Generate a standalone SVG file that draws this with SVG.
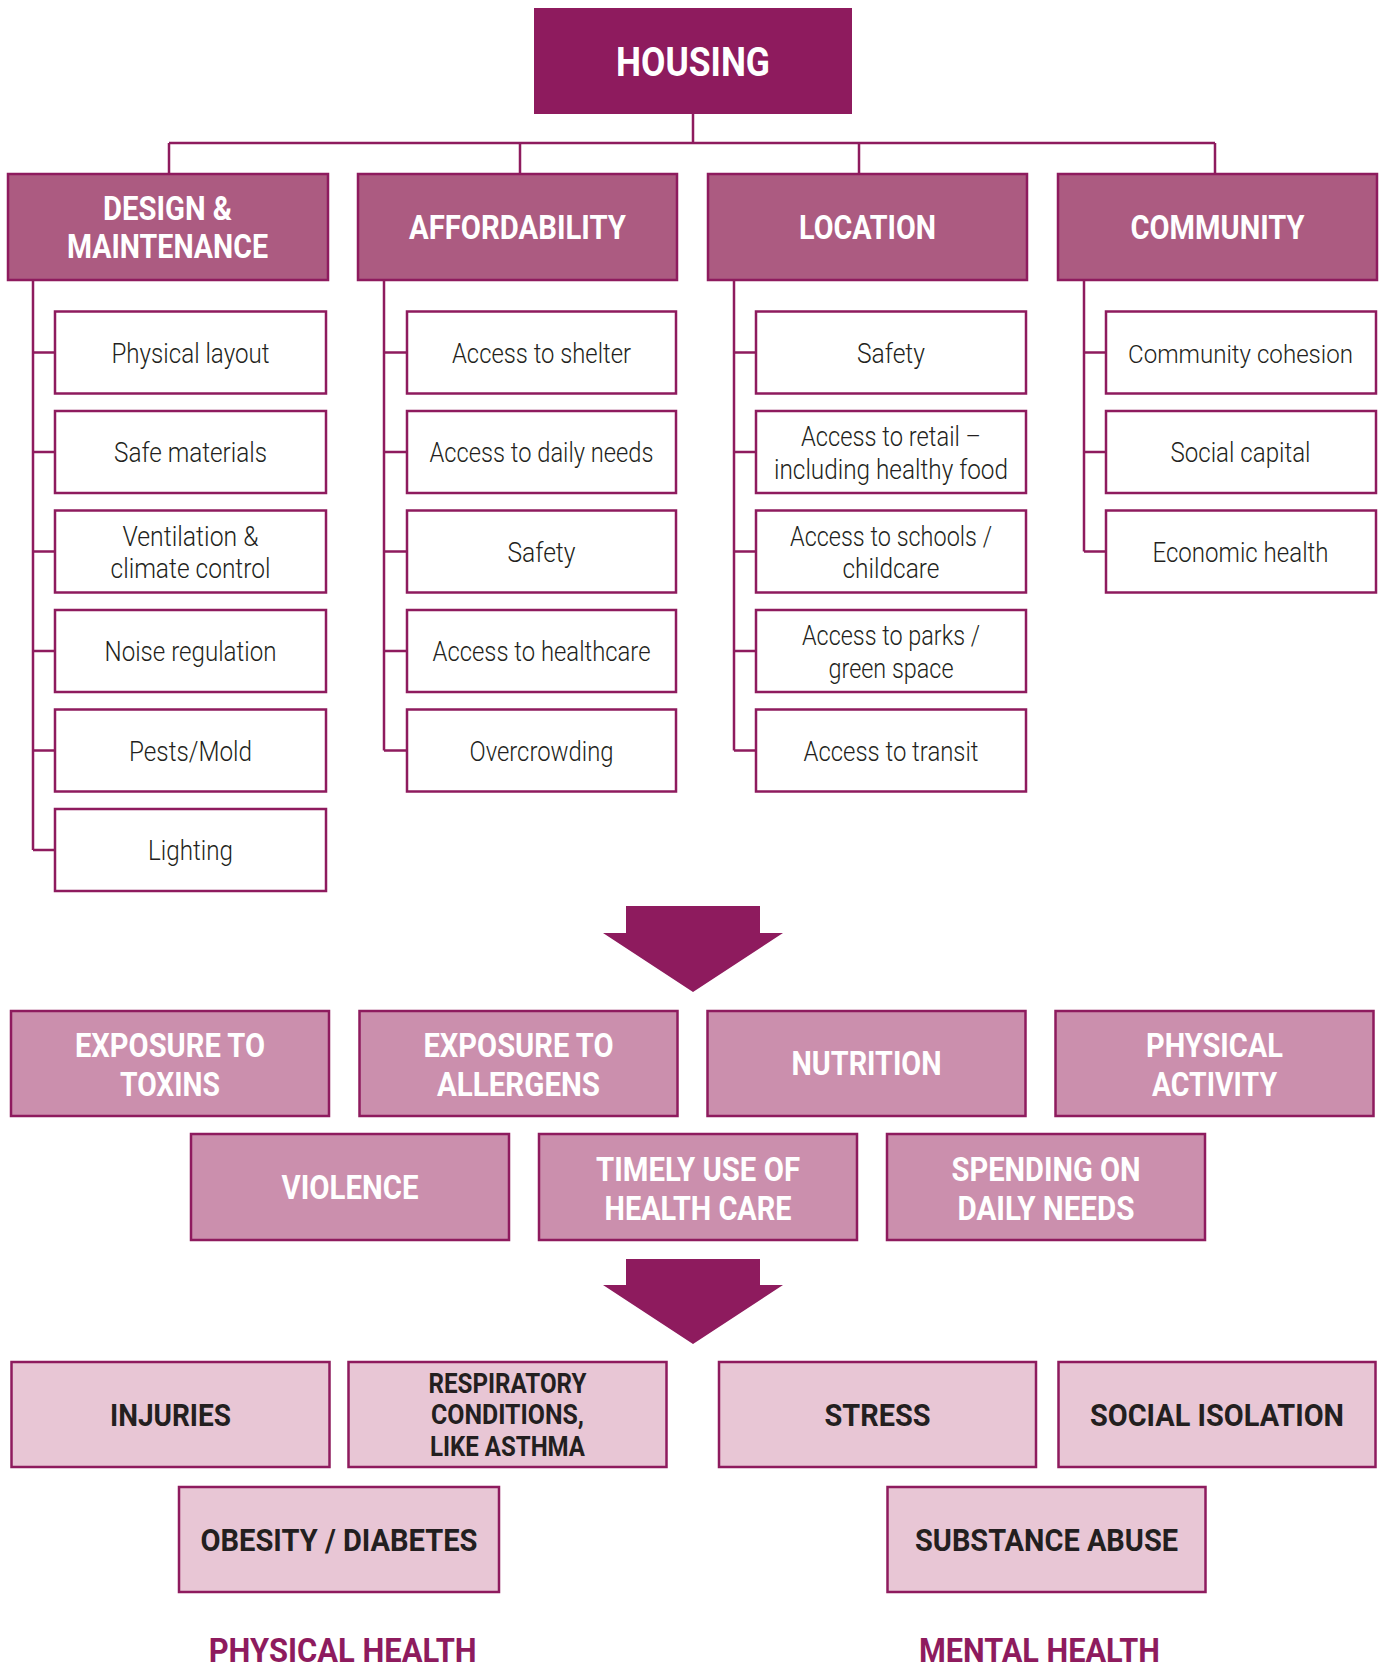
<svg xmlns="http://www.w3.org/2000/svg" width="1380" height="1667" viewBox="0 0 1380 1667">
<style>
.hb{fill:#8E1B5E}
.cat{fill:#AC5B81;stroke:#8E1B5E;stroke-width:2.5}
.ch{fill:#FFFFFF;stroke:#8E1B5E;stroke-width:2.5}
.pw{fill:#CB8FAD;stroke:#8E1B5E;stroke-width:2.5}
.oc{fill:#E8C6D5;stroke:#8E1B5E;stroke-width:2.5}
.ln{fill:none;stroke:#8E1B5E;stroke-width:2.5}
.arr{fill:#8E1B5E}
text{text-anchor:middle;font-family:Roboto,"Noto Sans","Liberation Sans",sans-serif}
.th{font-size:40px;font-weight:700;fill:#FFFFFF}
.tc{font-size:33px;font-weight:700;fill:#FFFFFF}
.tl{font-size:27.5px;font-weight:300;fill:#231F20}
.tp{font-size:32.5px;font-weight:700;fill:#FFFFFF}
.to{font-size:32px;font-weight:700;fill:#231F20}
.tos{font-size:27px;font-weight:700;fill:#231F20}
.tf{font-size:34px;font-weight:700;fill:#8E1B5E}
</style>
<g id="connectors">
<path class="ln" d="M693,114V143M169,143H1215M169,143V173M520,143V173M859,143V173M1215,143V173"/>
<path class="ln" d="M33,280V850M33,352.5H54M33,452H54M33,551.5H54M33,651H54M33,750.5H54M33,850H54"/>
<path class="ln" d="M384,280V750.5M384,352.5H406M384,452H406M384,551.5H406M384,651H406M384,750.5H406"/>
<path class="ln" d="M734,280V750.5M734,352.5H755M734,452H755M734,551.5H755M734,651H755M734,750.5H755"/>
<path class="ln" d="M1084,280V551.5M1084,352.5H1105M1084,452H1105M1084,551.5H1105"/>
</g>
<g id="housing"><rect class="hb" x="534" y="8" width="318" height="106"/><text class="th" x="693" y="76" textLength="154" lengthAdjust="spacingAndGlyphs">HOUSING</text></g>
<g id="cat-design"><rect class="cat" x="8" y="174" width="320" height="106"/><text class="tc" x="167.5" y="220" textLength="129" lengthAdjust="spacingAndGlyphs">DESIGN &amp;</text><text class="tc" x="167.5" y="258" textLength="201" lengthAdjust="spacingAndGlyphs">MAINTENANCE</text></g>
<g id="cat-affordability"><rect class="cat" x="358" y="174" width="319" height="106"/><text class="tc" x="517.5" y="238.5" textLength="217" lengthAdjust="spacingAndGlyphs">AFFORDABILITY</text></g>
<g id="cat-location"><rect class="cat" x="708" y="174" width="319" height="106"/><text class="tc" x="867.5" y="238.5" textLength="137" lengthAdjust="spacingAndGlyphs">LOCATION</text></g>
<g id="cat-community"><rect class="cat" x="1058" y="174" width="319" height="106"/><text class="tc" x="1217.5" y="238.5" textLength="174" lengthAdjust="spacingAndGlyphs">COMMUNITY</text></g>

<g id="d1"><rect class="ch" x="55" y="311.5" width="271" height="82"/><text class="tl" x="190.5" y="362.5" textLength="158" lengthAdjust="spacingAndGlyphs">Physical layout</text></g>
<g id="d2"><rect class="ch" x="55" y="411" width="271" height="82"/><text class="tl" x="190.5" y="462" textLength="153" lengthAdjust="spacingAndGlyphs">Safe materials</text></g>
<g id="d3"><rect class="ch" x="55" y="510.5" width="271" height="82"/><text class="tl" x="190.5" y="545.8" textLength="136" lengthAdjust="spacingAndGlyphs">Ventilation &amp;</text><text class="tl" x="190.5" y="578.2" textLength="160" lengthAdjust="spacingAndGlyphs">climate control</text></g>
<g id="d4"><rect class="ch" x="55" y="610" width="271" height="82"/><text class="tl" x="190.5" y="661" textLength="172" lengthAdjust="spacingAndGlyphs">Noise regulation</text></g>
<g id="d5"><rect class="ch" x="55" y="709.5" width="271" height="82"/><text class="tl" x="190.5" y="760.5" textLength="123" lengthAdjust="spacingAndGlyphs">Pests/Mold</text></g>
<g id="d6"><rect class="ch" x="55" y="809" width="271" height="82"/><text class="tl" x="190.5" y="860" textLength="85" lengthAdjust="spacingAndGlyphs">Lighting</text></g>

<g id="a1"><rect class="ch" x="407" y="311.5" width="269" height="82"/><text class="tl" x="541.5" y="362.5" textLength="179" lengthAdjust="spacingAndGlyphs">Access to shelter</text></g>
<g id="a2"><rect class="ch" x="407" y="411" width="269" height="82"/><text class="tl" x="541.5" y="462" textLength="224" lengthAdjust="spacingAndGlyphs">Access to daily needs</text></g>
<g id="a3"><rect class="ch" x="407" y="510.5" width="269" height="82"/><text class="tl" x="541.5" y="561.5" textLength="68" lengthAdjust="spacingAndGlyphs">Safety</text></g>
<g id="a4"><rect class="ch" x="407" y="610" width="269" height="82"/><text class="tl" x="541.5" y="661" textLength="218" lengthAdjust="spacingAndGlyphs">Access to healthcare</text></g>
<g id="a5"><rect class="ch" x="407" y="709.5" width="269" height="82"/><text class="tl" x="541.5" y="760.5" textLength="144" lengthAdjust="spacingAndGlyphs">Overcrowding</text></g>

<g id="l1"><rect class="ch" x="756" y="311.5" width="270" height="82"/><text class="tl" x="891" y="362.5" textLength="68" lengthAdjust="spacingAndGlyphs">Safety</text></g>
<g id="l2"><rect class="ch" x="756" y="411" width="270" height="82"/><text class="tl" x="891" y="446.3" textLength="180" lengthAdjust="spacingAndGlyphs">Access to retail –</text><text class="tl" x="891" y="478.7" textLength="234" lengthAdjust="spacingAndGlyphs">including healthy food</text></g>
<g id="l3"><rect class="ch" x="756" y="510.5" width="270" height="82"/><text class="tl" x="891" y="545.8" textLength="202" lengthAdjust="spacingAndGlyphs">Access to schools /</text><text class="tl" x="891" y="578.2" textLength="97" lengthAdjust="spacingAndGlyphs">childcare</text></g>
<g id="l4"><rect class="ch" x="756" y="610" width="270" height="82"/><text class="tl" x="891" y="645.3" textLength="178" lengthAdjust="spacingAndGlyphs">Access to parks /</text><text class="tl" x="891" y="677.7" textLength="125" lengthAdjust="spacingAndGlyphs">green space</text></g>
<g id="l5"><rect class="ch" x="756" y="709.5" width="270" height="82"/><text class="tl" x="891" y="760.5" textLength="175" lengthAdjust="spacingAndGlyphs">Access to transit</text></g>

<g id="c1"><rect class="ch" x="1106" y="311.5" width="270" height="82"/><text class="tl" x="1240.5" y="362.5" textLength="225" lengthAdjust="spacingAndGlyphs" style="font-size:26.5px">Community cohesion</text></g>
<g id="c2"><rect class="ch" x="1106" y="411" width="270" height="82"/><text class="tl" x="1240.5" y="462" textLength="140" lengthAdjust="spacingAndGlyphs">Social capital</text></g>
<g id="c3"><rect class="ch" x="1106" y="510.5" width="270" height="82"/><text class="tl" x="1240.5" y="561.5" textLength="176" lengthAdjust="spacingAndGlyphs">Economic health</text></g>

<g id="arrow1"><polygon class="arr" points="626,906 760,906 760,933 783,933 693,992 603,933 626,933"/></g>

<g id="p-toxins"><rect class="pw" x="11" y="1011" width="318" height="105"/><text class="tp" x="170" y="1057" textLength="190" lengthAdjust="spacingAndGlyphs">EXPOSURE TO</text><text class="tp" x="170" y="1096" textLength="100" lengthAdjust="spacingAndGlyphs">TOXINS</text></g>
<g id="p-allergens"><rect class="pw" x="359.5" y="1011" width="318" height="105"/><text class="tp" x="518.5" y="1057" textLength="190" lengthAdjust="spacingAndGlyphs">EXPOSURE TO</text><text class="tp" x="518.5" y="1096" textLength="163" lengthAdjust="spacingAndGlyphs">ALLERGENS</text></g>
<g id="p-nutrition"><rect class="pw" x="707.5" y="1011" width="318" height="105"/><text class="tp" x="866.5" y="1075" textLength="150" lengthAdjust="spacingAndGlyphs">NUTRITION</text></g>
<g id="p-activity"><rect class="pw" x="1055.5" y="1011" width="318" height="105"/><text class="tp" x="1214.5" y="1057" textLength="137" lengthAdjust="spacingAndGlyphs">PHYSICAL</text><text class="tp" x="1214.5" y="1096" textLength="125" lengthAdjust="spacingAndGlyphs">ACTIVITY</text></g>
<g id="p-violence"><rect class="pw" x="191" y="1134" width="318" height="106"/><text class="tp" x="350" y="1198.7" textLength="137" lengthAdjust="spacingAndGlyphs">VIOLENCE</text></g>
<g id="p-healthcare"><rect class="pw" x="539" y="1134" width="318" height="106"/><text class="tp" x="698" y="1180.5" textLength="204" lengthAdjust="spacingAndGlyphs">TIMELY USE OF</text><text class="tp" x="698" y="1219.5" textLength="187" lengthAdjust="spacingAndGlyphs">HEALTH CARE</text></g>
<g id="p-spending"><rect class="pw" x="887" y="1134" width="318" height="106"/><text class="tp" x="1046" y="1180.5" textLength="189" lengthAdjust="spacingAndGlyphs">SPENDING ON</text><text class="tp" x="1046" y="1219.5" textLength="177" lengthAdjust="spacingAndGlyphs">DAILY NEEDS</text></g>

<g id="arrow2"><polygon class="arr" points="626,1259 760,1259 760,1285 783,1285 693,1344 603,1285 626,1285"/></g>

<g id="o-injuries"><rect class="oc" x="11.5" y="1362" width="318" height="105"/><text class="to" x="170.5" y="1426" textLength="121" lengthAdjust="spacingAndGlyphs">INJURIES</text></g>
<g id="o-respiratory"><rect class="oc" x="348.5" y="1362" width="318" height="105"/><text class="tos" x="507.5" y="1392.7" textLength="158" lengthAdjust="spacingAndGlyphs">RESPIRATORY</text><text class="tos" x="507.5" y="1424" textLength="153" lengthAdjust="spacingAndGlyphs">CONDITIONS,</text><text class="tos" x="507.5" y="1456" textLength="155" lengthAdjust="spacingAndGlyphs">LIKE ASTHMA</text></g>
<g id="o-stress"><rect class="oc" x="719" y="1362" width="317" height="105"/><text class="to" x="877.5" y="1426" textLength="106" lengthAdjust="spacingAndGlyphs">STRESS</text></g>
<g id="o-isolation"><rect class="oc" x="1058.5" y="1362" width="317" height="105"/><text class="to" x="1217" y="1426" textLength="254" lengthAdjust="spacingAndGlyphs">SOCIAL ISOLATION</text></g>
<g id="o-obesity"><rect class="oc" x="179" y="1487" width="320" height="105"/><text class="to" x="339" y="1551" textLength="277" lengthAdjust="spacingAndGlyphs">OBESITY / DIABETES</text></g>
<g id="o-substance"><rect class="oc" x="887.5" y="1487" width="318" height="105"/><text class="to" x="1046.5" y="1551" textLength="263" lengthAdjust="spacingAndGlyphs">SUBSTANCE ABUSE</text></g>

<g id="label-physical"><text class="tf" x="342.7" y="1662" textLength="268" lengthAdjust="spacingAndGlyphs">PHYSICAL HEALTH</text></g>
<g id="label-mental"><text class="tf" x="1039.5" y="1662" textLength="241" lengthAdjust="spacingAndGlyphs">MENTAL HEALTH</text></g>
</svg>
